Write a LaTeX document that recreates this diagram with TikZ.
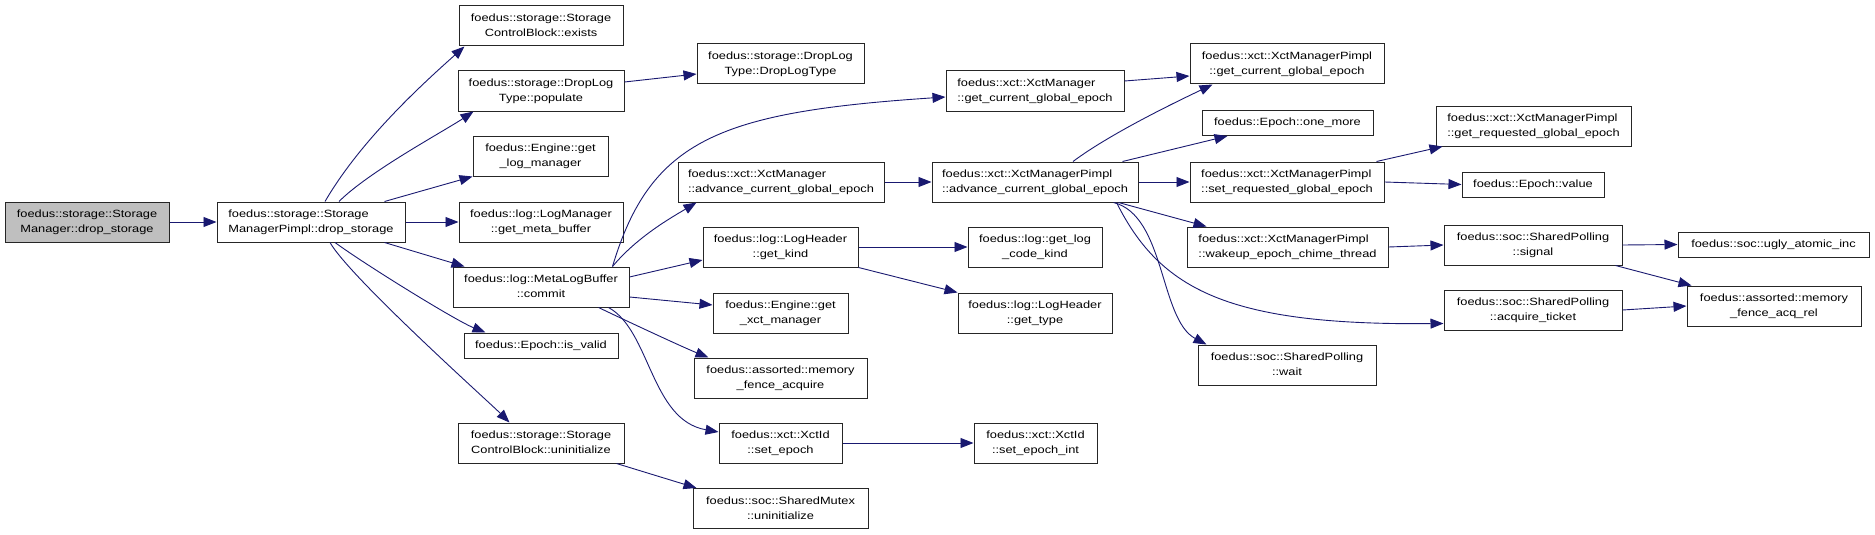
\documentclass[tikz,border=0pt]{standalone}
\usepackage{fontspec}
\usepackage{xcolor}
\usepackage{tikz}
\usetikzlibrary{arrows.meta}
\newfontfamily\doxfont[FakeStretch=1.22]{Liberation Sans}
\definecolor{edgeblue}{RGB}{25,25,112}
\definecolor{nodegray}{RGB}{191,191,191}
\newcommand{\two}[2]{\begin{tabular}{@{}l@{}}#1\\\multicolumn{1}{@{}c@{}}{#2}\end{tabular}}
\tikzset{
  fn/.style={rectangle, draw=black!85, line width=1pt, fill=white, inner sep=0pt, minimum height=40pt, font=\doxfont\fontsize{10.5}{15}\selectfont},
  fn1/.style={fn, minimum height=25pt},
  edge/.style={draw=edgeblue, line width=0.9pt, -{Triangle[length=13pt,width=10pt]}}
}

\begin{document}
\begin{tikzpicture}[x=1pt, y=-1pt]
  \useasboundingbox (0,0) rectangle (1875,535);
  \node[fn, fill=nodegray, minimum width=164pt] (sm) at (87,222) {\two{foedus::storage::Storage}{Manager::drop\_storage}};
  \node[fn, minimum width=188pt] (smp) at (311,222) {\two{foedus::storage::Storage}{ManagerPimpl::drop\_storage}};
  \node[fn, minimum width=164pt] (scbexists) at (541,26) {\two{foedus::storage::Storage}{ControlBlock::exists}};
  \node[fn, minimum width=166pt] (dltpop) at (541,91) {\two{foedus::storage::DropLog}{Type::populate}};
  \node[fn, minimum width=135pt] (englog) at (540.5,156) {\two{foedus::Engine::get}{\_log\_manager}};
  \node[fn, minimum width=164pt] (lmmeta) at (541,222) {\two{foedus::log::LogManager}{::get\_meta\_buffer}};
  \node[fn, minimum width=176pt] (mlbcommit) at (541,287) {\two{foedus::log::MetaLogBuffer}{::commit}};
  \node[fn1, minimum width=154pt] (isvalid) at (541,345.5) {foedus::Epoch::is\_valid};
  \node[fn, minimum width=166pt] (scbuninit) at (541,443) {\two{foedus::storage::Storage}{ControlBlock::uninitialize}};
  \node[fn, minimum width=167pt] (dltctor) at (780.5,64) {\two{foedus::storage::DropLog}{Type::DropLogType}};
  \node[fn, minimum width=178pt] (xmgetcur) at (1035,91) {\two{foedus::xct::XctManager}{::get\_current\_global\_epoch}};
  \node[fn, minimum width=206pt] (xmadv) at (781,182) {\two{foedus::xct::XctManager}{::advance\_current\_global\_epoch}};
  \node[fn, minimum width=206pt] (xmpadv) at (1035,182) {\two{foedus::xct::XctManagerPimpl}{::advance\_current\_global\_epoch}};
  \node[fn, minimum width=155pt] (lhkind) at (780.5,247) {\two{foedus::log::LogHeader}{::get\_kind}};
  \node[fn, minimum width=134pt] (logcodekind) at (1035,247) {\two{foedus::log::get\_log}{\_code\_kind}};
  \node[fn, minimum width=135pt] (engxct) at (780.5,313) {\two{foedus::Engine::get}{\_xct\_manager}};
  \node[fn, minimum width=154pt] (lhtype) at (1035,313) {\two{foedus::log::LogHeader}{::get\_type}};
  \node[fn, minimum width=173pt] (fenceacq) at (780.5,378) {\two{foedus::assorted::memory}{\_fence\_acquire}};
  \node[fn, minimum width=123pt] (setepoch) at (780.5,443) {\two{foedus::xct::XctId}{::set\_epoch}};
  \node[fn, minimum width=123pt] (setepochint) at (1035.5,443) {\two{foedus::xct::XctId}{::set\_epoch\_int}};
  \node[fn, minimum width=175pt] (mutexuninit) at (780.5,508.5) {\two{foedus::soc::SharedMutex}{::uninitialize}};
  \node[fn, minimum width=194pt] (xmpgetcur) at (1287,64) {\two{foedus::xct::XctManagerPimpl}{::get\_current\_global\_epoch}};
  \node[fn1, minimum width=171pt] (onemore) at (1287.5,123) {foedus::Epoch::one\_more};
  \node[fn, minimum width=194pt] (xmpsetreq) at (1287,182) {\two{foedus::xct::XctManagerPimpl}{::set\_requested\_global\_epoch}};
  \node[fn, minimum width=201pt] (xmpwakeup) at (1287.5,247) {\two{foedus::xct::XctManagerPimpl}{::wakeup\_epoch\_chime\_thread}};
  \node[fn, minimum width=178pt] (spwait) at (1287,365) {\two{foedus::soc::SharedPolling}{::wait}};
  \node[fn, minimum width=195pt] (xmpgetreq) at (1533.5,126) {\two{foedus::xct::XctManagerPimpl}{::get\_requested\_global\_epoch}};
  \node[fn1, minimum width=142pt] (epochvalue) at (1533,184.5) {foedus::Epoch::value};
  \node[fn, minimum width=178pt] (spsignal) at (1533,245) {\two{foedus::soc::SharedPolling}{::signal}};
  \node[fn1, minimum width=191pt] (uglyinc) at (1773.5,244.5) {foedus::soc::ugly\_atomic\_inc};
  \node[fn, minimum width=178pt] (spacquire) at (1533,310) {\two{foedus::soc::SharedPolling}{::acquire\_ticket}};
  \node[fn, minimum width=174pt] (fenceacqrel) at (1774,306) {\two{foedus::assorted::memory}{\_fence\_acq\_rel}};

  \draw[edge] (sm.east) -- (smp.west);
  \draw[edge] ([xshift=14pt]smp.north) .. controls +(35,-60) and +(-45,40) .. ([xshift=6pt]scbexists.south west);
  \draw[edge] ([xshift=28pt]smp.north) .. controls +(30,-30) and +(-30,20) .. ([xshift=16pt]dltpop.south west);
  \draw[edge] ([xshift=-21pt]smp.north east) -- (englog.south west);
  \draw[edge] (smp.east) -- (lmmeta.west);
  \draw[edge] ([xshift=-21pt]smp.south east) -- ([xshift=12pt]mlbcommit.north west);
  \draw[edge] ([xshift=24pt]smp.south) .. controls +(30,22) and +(-30,-12) .. ([xshift=22pt]isvalid.north west);
  \draw[edge] ([xshift=19pt]smp.south) .. controls +(20,35) and +(-20,-20) .. ([xshift=52pt]scbuninit.north west);
  \draw[edge] ([yshift=9pt]dltpop.east) -- ([yshift=-10pt]dltctor.west);
  \draw[edge] ([xshift=-17pt]mlbcommit.north east) .. controls +(38,-127) and +(-226,15) .. ([yshift=-6pt]xmgetcur.west);
  \draw[edge] ([xshift=-17pt]mlbcommit.north east) .. controls +(25,-30) and +(-25,15) .. ([xshift=19pt]xmadv.south west);
  \draw[edge] ([yshift=10pt]mlbcommit.east) -- ([yshift=-13pt]lhkind.west);
  \draw[edge] ([yshift=-10pt]mlbcommit.east) -- ([yshift=8pt]engxct.west);
  \draw[edge] ([xshift=-31pt]mlbcommit.south east) .. controls +(25,12) and +(-25,-10) .. ([xshift=15pt]fenceacq.north west);
  \draw[edge] ([xshift=-21pt]mlbcommit.south east) .. controls +(42,23) and +(-68,-12) .. ([yshift=11pt]setepoch.west);
  \draw[edge] ([xshift=-8pt]scbuninit.south east) -- ([xshift=4pt]mutexuninit.north west);
  \draw[edge] (xmadv.east) -- (xmpadv.west);
  \draw[edge] ([yshift=10pt]xmgetcur.east) -- ([yshift=-12pt]xmpgetcur.west);
  \draw[edge] (lhkind.east) -- (logcodekind.west);
  \draw[edge] (lhkind.south east) -- (lhtype.north west);
  \draw[edge] (setepoch.east) -- (setepochint.west);
  \draw[edge] ([xshift=38pt]xmpadv.north) .. controls +(40,-30) and +(-25,12) .. ([xshift=23pt]xmpgetcur.south west);
  \draw[edge] ([xshift=-16pt]xmpadv.north east) -- ([xshift=26pt]onemore.south west);
  \draw[edge] (xmpadv.east) -- (xmpsetreq.west);
  \draw[edge] ([xshift=-20pt]xmpadv.south east) -- ([xshift=20pt]xmpwakeup.north west);
  \draw[edge] ([xshift=-25pt]xmpadv.south east) .. controls +(52,13) and +(-47,-25) .. ([xshift=9pt]spwait.north west);
  \draw[edge] ([xshift=-22pt]xmpadv.south east) .. controls +(44,88) and +(-214,2) .. ([yshift=7pt]spacquire.south west);
  \draw[edge] ([xshift=-8pt]xmpsetreq.north east) -- ([xshift=7pt]xmpgetreq.south west);
  \draw[edge] (xmpsetreq.east) -- (epochvalue.west);
  \draw[edge] (xmpwakeup.east) -- (spsignal.west);
  \draw[edge] (spsignal.east) -- (uglyinc.west);
  \draw[edge] ([xshift=-7pt]spsignal.south east) -- ([xshift=5pt]fenceacqrel.north west);
  \draw[edge] (spacquire.east) -- (fenceacqrel.west);
\end{tikzpicture}
\end{document}
